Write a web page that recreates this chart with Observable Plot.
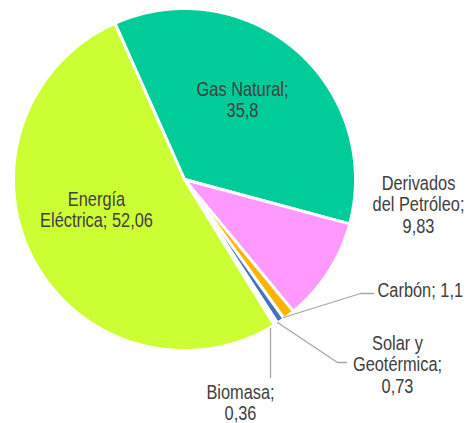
<!DOCTYPE html>
<html>
<head>
<meta charset="utf-8">
<script src="https://cdn.jsdelivr.net/npm/d3@7"></script>
<script src="https://cdn.jsdelivr.net/npm/@observablehq/plot@0.6"></script>
<style>
  html, body { margin: 0; padding: 0; background: #ffffff; }
  #chart svg { display: block; }
</style>
</head>
<body>
<div id="chart"></div>
<script>
// ---- Data ----
const categories = ["Gas Natural", "Derivados del Petróleo", "Carbón", "Solar y Geotérmica", "Biomasa", "Energía Eléctrica"];
const values = [35.8, 9.83, 1.1, 0.73, 0.36, 52.06];
const colors = ["#00CC99", "#FF99FF", "#FFB400", "#4472C4", "#FCFCFC", "#CCFF33"];

// Label line breaks (text content), value inserted with comma decimal
const fmt = v => String(v).replace(".", ",");
const labelLines = [
  ["Gas Natural;", fmt(values[0])],
  ["Derivados", "del Petróleo;", fmt(values[1])],
  ["Carbón; " + fmt(values[2])],
  ["Solar y", "Geotérmica;", fmt(values[3])],
  ["Biomasa;", fmt(values[4])],
  ["Energía", "Eléctrica; " + fmt(values[5])]
];

// ---- Layout (pixels) ----
const W = 472, H = 423;
const cx = 184, cy = 179, R = 171;
const startAngle = -24 * Math.PI / 180;
const labelLayout = [
  {x: 242, y: 95,  anchor: "middle"},
  {x: 418, y: 189, anchor: "middle"},
  {x: 377, y: 296, anchor: "start"},
  {x: 397, y: 349, anchor: "middle"},
  {x: 240, y: 398, anchor: "middle"},
  {x: 96,  y: 205, anchor: "middle"}
];
const leaderLayout = [
  null,
  null,
  [[283, 317], [360, 293], [373, 293]],
  [[277, 322], [337, 362], [346, 362]],
  [[270, 328], [270, 377]],
  null
];

// ---- Font selection ----
function hasFont(f) {
  const c = document.createElement("canvas").getContext("2d");
  const s = "abcdefghijklmWMi0123";
  c.font = "40px monospace";
  const w0 = c.measureText(s).width;
  c.font = `40px "${f}", monospace`;
  return Math.abs(c.measureText(s).width - w0) > 0.5;
}
let fontFamily, fontSize, squeeze;
if (hasFont("Liberation Sans Narrow")) { fontFamily = "'Liberation Sans Narrow'"; fontSize = 20; squeeze = 1; }
else if (hasFont("Arial Narrow")) { fontFamily = "'Arial Narrow'"; fontSize = 20; squeeze = 1; }
else { fontFamily = "'Liberation Sans', Arial, sans-serif"; fontSize = 19.5; squeeze = 0.84; }
const lineH = 21.5;

// ---- Build slices ----
const pie = d3.pie().sort(null).value(d => d.value).startAngle(startAngle).endAngle(startAngle + 2 * Math.PI);
const arcs = pie(categories.map((name, i) => ({name, value: values[i], color: colors[i], i})));

const slicePoints = [];
for (const a of arcs) {
  const {name, color} = a.data;
  slicePoints.push({name, color, x: cx, y: cy});
  const n = Math.max(2, Math.ceil((a.endAngle - a.startAngle) / (0.25 * Math.PI / 180)));
  for (let k = 0; k <= n; ++k) {
    const t = a.startAngle + (a.endAngle - a.startAngle) * k / n;
    slicePoints.push({name, color, x: cx + R * Math.sin(t), y: cy - R * Math.cos(t)});
  }
}

const textRows = [];
labelLines.forEach((lines, i) => {
  const L = labelLayout[i];
  lines.forEach((t, j) => {
    textRows.push({text: t, x: L.x, y: L.y + j * lineH - 0.32 * fontSize, anchor: L.anchor});
  });
});

const leaderRows = [];
leaderLayout.forEach((pts, i) => {
  if (!pts) return;
  pts.forEach(([x, y]) => leaderRows.push({name: categories[i], x, y}));
});

const chart = Plot.plot({
  width: W,
  height: H,
  margin: 0,
  x: {type: "identity", axis: null},
  y: {type: "identity", axis: null},
  color: {type: "identity"},
  style: {background: "#ffffff"},
  marks: [
    Plot.line(slicePoints, {x: "x", y: "y", z: "name", fill: "color", stroke: "#ffffff", strokeWidth: 3, strokeLinejoin: "miter", curve: "linear-closed"}),
    Plot.line(leaderRows, {x: "x", y: "y", z: "name", stroke: "#A6A6A6", strokeWidth: 1.3, curve: "linear"}),
    Plot.text(textRows.filter(d => d.anchor === "middle"), {x: "x", y: "y", text: "text", textAnchor: "middle", fontSize, fontFamily, fill: "#404040"}),
    Plot.text(textRows.filter(d => d.anchor === "start"), {x: "x", y: "y", text: "text", textAnchor: "start", fontSize, fontFamily, fill: "#404040"})
  ]
});
if (squeeze !== 1) {
  chart.querySelectorAll('g[aria-label="text"] text').forEach(t => {
    const tr = t.getAttribute("transform") || "";
    t.setAttribute("transform", tr + ` scale(${squeeze},1)`);
  });
}
document.getElementById("chart").appendChild(chart);
</script>
</body>
</html>
